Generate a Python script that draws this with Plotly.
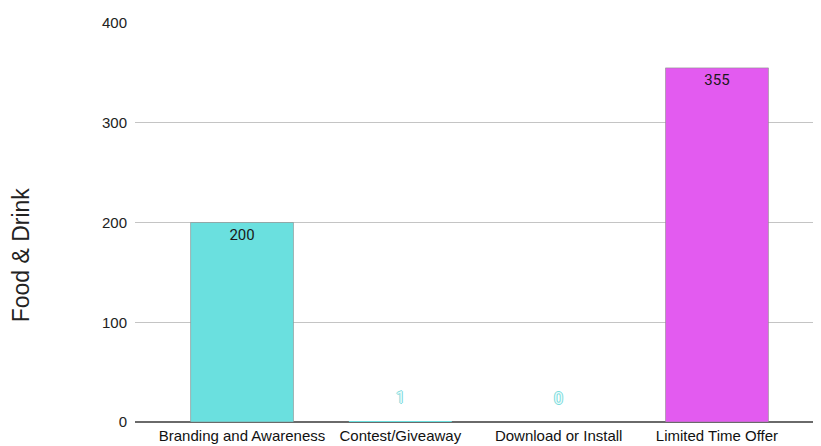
import plotly.graph_objects as go

categories = ["Branding and Awareness", "Contest/Giveaway", "Download or Install", "Limited Time Offer"]
values = [200, 1, 0, 355]
bar_colors = ["#6ae0df", "#6ae0df", "#6ae0df", "#e35bf0"]
y_ticks = [0, 100, 200, 300, 400]
y_title = "Food & Drink"

small_threshold = 20
inside_text = [str(v) if v >= small_threshold else "" for v in values]
outline_w = [1 if v >= small_threshold else 0 for v in values]

fig = go.Figure()
fig.add_trace(go.Bar(
    x=categories, y=values,
    marker=dict(color=bar_colors, line=dict(color="rgba(140,140,140,0.6)", width=outline_w)),
    width=0.65,
    text=inside_text, textposition="inside", insidetextanchor="end",
    textfont=dict(family="Roboto", size=15, color="#1a1a1a"),
    textangle=0,
    hoverinfo="skip",
))

outline = "1px 0px 0px #7adcdc, -1px 0px 0px #7adcdc, 0px 1px 0px #7adcdc, 0px -1px 0px #7adcdc"
annotations = []
for c, v in zip(categories, values):
    if v < small_threshold:
        annotations.append(dict(
            x=c, y=v, xref="x", yref="y", text=str(v), showarrow=False,
            yshift=24, font=dict(family="Roboto", size=16, color="#eafafa", shadow=outline),
        ))
annotations.append(dict(
    x=-0.166, y=0.418, xref="paper", yref="paper", text=y_title, textangle=-90,
    showarrow=False, xanchor="center", yanchor="middle",
    font=dict(family="Liberation Sans, Arial", size=23, color="#222222"),
))

# page body has an 8px margin, so the figure is sized to fit the 821x446 window
fig.update_layout(
    width=813, height=438,
    margin=dict(l=127, r=0, t=15, b=24),
    paper_bgcolor="white", plot_bgcolor="white",
    showlegend=False,
    annotations=annotations,
    xaxis=dict(
        range=[-0.676, 3.657], showgrid=False, zeroline=False, showline=False,
        ticks="", tickfont=dict(family="Liberation Sans, Arial", size=15, color="#111111"),
        ticklabelstandoff=3, fixedrange=True,
    ),
    yaxis=dict(
        range=[0, 400], tickvals=y_ticks, showgrid=True, gridcolor="#c4c4c4", gridwidth=1,
        zeroline=True, zerolinecolor="#6a6a6a", zerolinewidth=2, showline=False,
        ticks="", tickfont=dict(family="Liberation Sans, Arial", size=15, color="#222222"),
        ticklabelstandoff=7, fixedrange=True,
    ),
    bargap=0.35,
)

fig.write_html("out.html")
